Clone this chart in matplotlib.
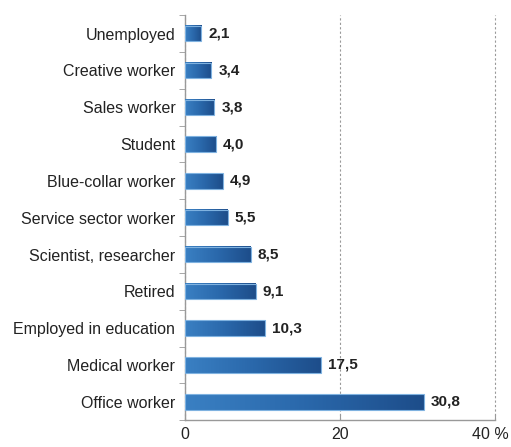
import matplotlib.pyplot as plt
import numpy as np
import matplotlib.transforms as mtransforms
from matplotlib.colors import LinearSegmentedColormap
from matplotlib.patches import Rectangle

categories = ['Unemployed', 'Creative worker', 'Sales worker', 'Student',
              'Blue-collar worker', 'Service sector worker', 'Scientist, researcher',
              'Retired', 'Employed in education', 'Medical worker', 'Office worker']
values = [2.1, 3.4, 3.8, 4.0, 4.9, 5.5, 8.5, 9.1, 10.3, 17.5, 30.8]
xticks = [0, 20, 40]
xtick_labels = ['0', '20', '40 %']

plt.rcParams['font.family'] = ['Liberation Sans', 'DejaVu Sans']

fig = plt.figure(figsize=(5.11, 4.47), dpi=100)
ax = fig.add_axes([0.362, 0.060, 0.607, 0.906])

cmap = LinearSegmentedColormap.from_list('bar', ['#3a80c3', '#2a68ab', '#1d4d8a'])
grad = np.linspace(0, 1, 256).reshape(1, -1)
h = 0.42
ypos = np.arange(len(categories))

for y, v in zip(ypos, values):
    ax.imshow(grad, cmap=cmap, aspect='auto', extent=[0, v, y + h / 2, y - h / 2],
              zorder=3, interpolation='bilinear')
    ax.add_patch(Rectangle((0, y - h / 2), v, h, fill=False, edgecolor='#7fb2e0',
                           linewidth=0.8, zorder=4))
    ax.text(v + 0.9, y, f'{v:.1f}'.replace('.', ','), va='center', ha='left',
            fontsize=11, fontweight='bold', color='#222222')

ax.set_xlim(0, 40)
ax.set_ylim(len(categories) - 0.5, -0.5)
ax.set_yticks(ypos)
ax.set_yticklabels(categories, fontsize=11.5, color='#222222')
ax.set_yticks(np.arange(len(categories) + 1) - 0.5, minor=True)
ax.tick_params(axis='y', which='major', length=0, pad=7)
ax.tick_params(axis='y', which='minor', length=4, color='#999999', direction='out')
ax.set_xticks(xticks)
ax.set_xticklabels(xtick_labels, fontsize=11.5, color='#222222')
ax.tick_params(axis='x', length=4, color='#999999', direction='in', pad=5)
last = ax.get_xticklabels()[-1]
last.set_transform(last.get_transform() + mtransforms.ScaledTranslation(-5 / 100, 0, fig.dpi_scale_trans))
ax.xaxis.grid(True, linestyle=(0, (2, 2)), color='#999999', linewidth=0.8, zorder=0)
for gl in ax.get_xgridlines():
    gl.set_clip_on(False)
ax.set_axisbelow(True)

for s in ['top', 'right']:
    ax.spines[s].set_visible(False)
for s in ['left', 'bottom']:
    ax.spines[s].set_color('#999999')
    ax.spines[s].set_linewidth(1.0)

plt.savefig('out.png', dpi=100)
